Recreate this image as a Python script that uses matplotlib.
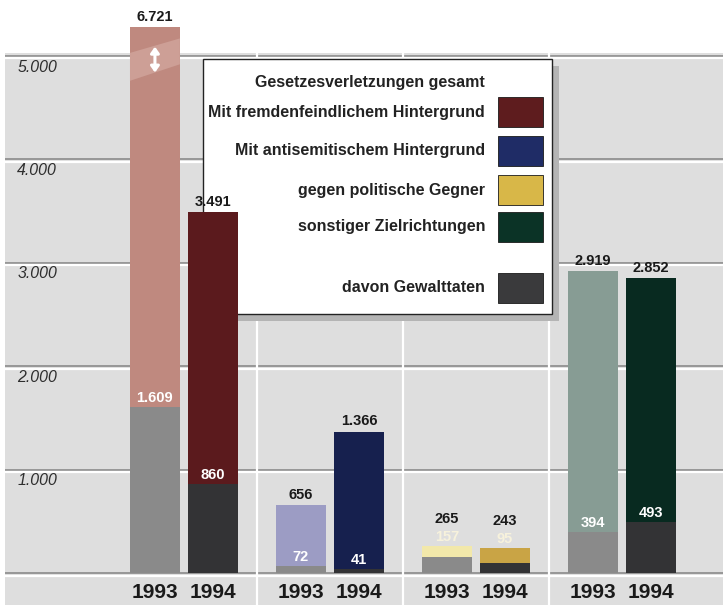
import matplotlib
matplotlib.use('Agg')
import matplotlib.pyplot as plt
import matplotlib.transforms as mtransforms
from matplotlib.patches import Rectangle, Polygon

plt.rcParams['font.family'] = ['Liberation Sans', 'DejaVu Sans']

# ---------------- data ----------------
groups = ['fremdenfeindlich', 'antisemitisch', 'politische Gegner', 'sonstige']
years = ['1993', '1994']
total_1993 = [6721, 656, 265, 2919]
total_1994 = [3491, 1366, 243, 2852]
violent_1993 = [1609, 72, 157, 394]
violent_1994 = [860, 41, 95, 493]
yticks = [1000, 2000, 3000, 4000, 5000]
ytick_labels = ['1.000', '2.000', '3.000', '4.000', '5.000']
legend_title = 'Gesetzesverletzungen gesamt'
legend_labels = ['Mit fremdenfeindlichem Hintergrund',
                 'Mit antisemitischem Hintergrund',
                 'gegen politische Gegner',
                 'sonstiger Zielrichtungen']
legend_violent = 'davon Gewalttaten'

# ---------------- style ----------------
col_1993 = ['#bf897f', '#9c9cc4', '#f2e8aa', '#879c94']
col_1994 = ['#5b1a1d', '#16204e', '#c9a445', '#082a20']
viol_col_1993 = '#8a8a8a'
viol_col_1994 = '#333335'
legend_colors = ['#5e1c1e', '#1f2c66', '#d8b748', '#0b3326']
legend_viol_color = '#3a3a3c'
bg = '#dedede'
CAP = 5280          # display cap of the broken bar
OFF = 0.199         # half distance between paired bars
BW = 0.342          # bar width

W, H = 727, 605
fig = plt.figure(figsize=(W / 100, H / 100), dpi=100)
ax = fig.add_axes([5 / W, 0, 718 / W, (H - 53) / H], facecolor=bg)
ax.set_xlim(-1.226, 3.692)
ax.set_ylim(-309, 5029)
for s in ax.spines.values():
    s.set_visible(False)
ax.set_xticks([])
ax.set_yticks([])

# grid lines (dark line with white highlight below)
for v in [0] + yticks:
    ax.axhline(v, color='#8a8a8a', lw=1.2, zorder=1)
    ax.axhline(v - 24, color='white', lw=1.6, zorder=1)
# vertical separators between groups
for i in range(len(groups) - 1):
    ax.axvline(i + 0.5, color='white', lw=1.6, zorder=1)

# y labels
ytr = mtransforms.blended_transform_factory(ax.transAxes, ax.transData)
for v, lab in zip(yticks, ytick_labels):
    ax.text(0.017, v - 107, lab, transform=ytr, ha='left', va='center',
            fontsize=11.4, style='italic', color='#2e2e2e')

# ---------------- legend (behind bars) ----------------
ptr = mtransforms.Affine2D().scale(1 / W, -1 / H).translate(0, 1) + fig.transFigure
lx, ly, lw_, lh = 203, 59, 349, 255
ax.add_patch(Rectangle((lx + 7, ly + 7), lw_, lh, transform=ptr, fc='#b4b4b4',
                       ec='none', zorder=2.2, clip_on=False))
ax.add_patch(Rectangle((lx, ly), lw_, lh, transform=ptr, fc='white',
                       ec='#222222', lw=1.0, zorder=2.3, clip_on=False))
txt_x = lx + 282
sw_x = lx + 295
sw_w = 45
LFS = 11.5
ax.text(txt_x, ly + 23, legend_title, transform=ptr, ha='right', va='center',
        fontsize=LFS, fontweight='bold', color='#222222', zorder=2.5)
row_y = [53, 92, 131, 168]
for ry, lab, c in zip(row_y, legend_labels, legend_colors):
    ax.text(txt_x, ly + ry, lab, transform=ptr, ha='right', va='center',
            fontsize=LFS, fontweight='bold', color='#222222', zorder=2.5)
    ax.add_patch(Rectangle((sw_x, ly + ry - 15), sw_w, 30, transform=ptr,
                           fc=c, ec='#1a1a1a', lw=0.6, zorder=2.5, clip_on=False))
ax.text(txt_x, ly + 229, legend_violent, transform=ptr, ha='right', va='center',
        fontsize=LFS, fontweight='bold', color='#222222', zorder=2.5)
ax.add_patch(Rectangle((sw_x, ly + 229 - 15), sw_w, 30, transform=ptr,
                       fc=legend_viol_color, ec='#1a1a1a', lw=0.6, zorder=2.5,
                       clip_on=False))

# ---------------- bars ----------------
def fmt(v):
    return f"{v:,}".replace(',', '.')

VFS = 10.5
series = [
    (-OFF, total_1993, violent_1993, col_1993, viol_col_1993, years[0]),
    (+OFF, total_1994, violent_1994, col_1994, viol_col_1994, years[1]),
]
for dx, totals, viols, cols, vcol, yr in series:
    for i, (t, v) in enumerate(zip(totals, viols)):
        x = i + dx
        shown = min(t, CAP)
        ax.bar(x, shown, width=BW, color=cols[i], zorder=3, clip_on=False)
        ax.bar(x, v, width=BW, color=vcol, zorder=3.1)
        stacked = (t - v) < 200
        if stacked:
            ax.annotate(fmt(v), xy=(x, shown), xytext=(0, 1.5),
                        textcoords='offset points', ha='center', va='bottom',
                        fontsize=VFS, fontweight='bold', color='#f7f2dc',
                        zorder=4, annotation_clip=False)
            toff = 14.5
        else:
            ax.annotate(fmt(v), xy=(x, v), xytext=(0, 1.5),
                        textcoords='offset points', ha='center', va='bottom',
                        fontsize=VFS, fontweight='bold', color='white',
                        zorder=4, annotation_clip=False)
            toff = 2.5
        ax.annotate(fmt(t), xy=(x, shown), xytext=(0, toff),
                    textcoords='offset points', ha='center', va='bottom',
                    fontsize=VFS, fontweight='bold', color='#1a1a1a',
                    zorder=4, annotation_clip=False)
        if t > CAP:
            x0, x1 = x - BW / 2, x + BW / 2
            ax.add_patch(Polygon([(x0, CAP - 520), (x1, CAP - 360),
                                  (x1, CAP - 110), (x0, CAP - 250)],
                                 closed=True, fc='#cd9f96', ec='none',
                                 zorder=3.2, clip_on=False))
            ax.annotate('', xy=(x, CAP - 190), xytext=(x, CAP - 440),
                        arrowprops=dict(arrowstyle='<|-|>,head_length=0.35,head_width=0.25',
                                        color='white', lw=2.2, mutation_scale=10,
                                        shrinkA=0, shrinkB=0),
                        zorder=3.5, annotation_clip=False)
        ax.text(x, -184, yr, ha='center', va='center', fontsize=15,
                fontweight='bold', color='#1a1a1a', zorder=4)

fig.savefig('out.png', dpi=100)
